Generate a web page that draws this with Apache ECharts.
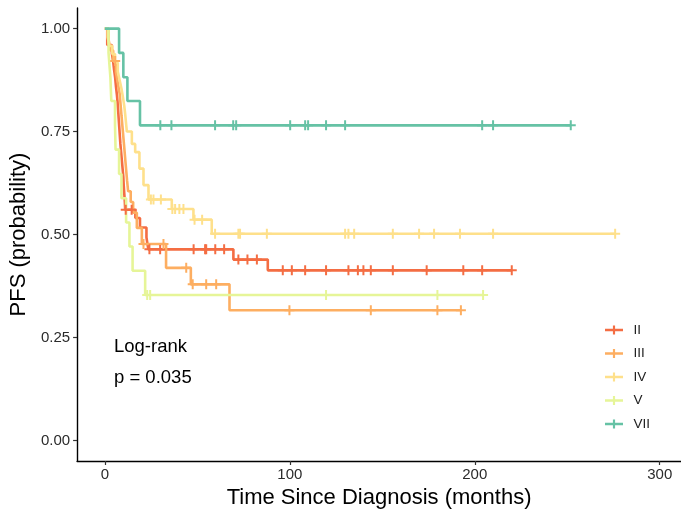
<!DOCTYPE html>
<html>
<head>
<meta charset="utf-8">
<script src="https://cdn.jsdelivr.net/npm/echarts@6/dist/echarts.min.js"></script>
<style>
html, body { margin: 0; padding: 0; background: #ffffff; }
#chart { width: 681px; height: 516px; }
</style>
</head>
<body>
<div id="chart"></div>
<script>
// Kaplan-Meier progression-free survival by group.
// For each group: event times (months), survival just after each event, censoring times.
const groupNames = ['II', 'III', 'IV', 'V', 'VII'];
const groupColors = ['#F46D43', '#FDAE61', '#FEE08B', '#E6F598', '#66C2A5'];

const iiTimes = [1.3, 3.8, 4.5, 5, 5.6, 6, 6.5, 6.9, 7.2, 7.5, 7.8, 8.1, 8.4, 8.8, 9.2, 9.6, 10, 10.2, 10.5, 10.8, 11, 16.5, 19, 22.5, 23.5, 69.5, 88.1];
const iiSurv  = [0.96, 0.94, 0.92, 0.90, 0.88, 0.86, 0.84, 0.82, 0.80, 0.78, 0.76, 0.74, 0.72, 0.70, 0.68, 0.66, 0.64, 0.62, 0.60, 0.58, 0.56, 0.54, 0.517, 0.493, 0.464, 0.439, 0.413];
const iiCensor = [11.3, 14.5, 24.1, 29.9, 48, 54.2, 54.8, 59.7, 64.5, 72.2, 77.1, 82.2, 96.2, 101.1, 108.3, 119.6, 131.7, 136.8, 139.8, 143.8, 155.7, 174, 193.8, 204, 220];

const iiiTimes = [2, 3, 4.5, 6, 7, 8, 8.5, 9, 9.5, 10, 10.5, 11, 11.5, 12, 12.6, 14, 15.3, 17.3, 20, 33.1, 46.5, 67.4];
const iiiSurv  = [0.974, 0.947, 0.921, 0.894, 0.868, 0.842, 0.816, 0.789, 0.763, 0.737, 0.711, 0.684, 0.658, 0.632, 0.605, 0.579, 0.553, 0.516, 0.477, 0.419, 0.379, 0.316];
const iiiCensor = [5.6, 20.9, 31.7, 44, 47.5, 54.8, 60.2, 99.8, 143.8, 179.8, 192.5];

const ivTimes = [1.5, 2.5, 4, 5.5, 7, 8, 9, 9.8, 10.5, 11, 11.9, 14.6, 16.4, 18.7, 20.9, 23.6, 36.2, 47.9, 57.8];
const ivSurv  = [0.979, 0.958, 0.938, 0.917, 0.896, 0.875, 0.854, 0.833, 0.812, 0.792, 0.75, 0.72, 0.70, 0.66, 0.62, 0.585, 0.562, 0.536, 0.502];
const ivCensor = [24.9, 26.3, 30.3, 36.5, 38, 40.3, 42.5, 48.5, 52.6, 59.6, 72.2, 73.1, 87.6, 129.9, 131.7, 134.8, 155.7, 169.9, 178, 192, 209.9, 275.9];

const vTimes = [2, 3, 3.5, 5.5, 5.8, 7.7, 9, 11.5, 13.3, 15, 21.8];
const vSurv  = [0.941, 0.882, 0.824, 0.765, 0.706, 0.647, 0.588, 0.529, 0.471, 0.412, 0.353];
const vCensor = [22.9, 24.5, 119.6, 179.8, 204.5];

const viiTimes = [7.7, 10, 12.2, 19];
const viiSurv  = [0.941, 0.882, 0.824, 0.765];
const viiCensor = [30, 36, 59.6, 69.4, 71, 100.2, 108.3, 109.9, 119.6, 129.9, 204, 209.9, 251.9];

const xTicks = [0, 100, 200, 300];
const yTicks = [0, 0.25, 0.5, 0.75, 1];

const groups = [
  [iiTimes, iiSurv, iiCensor],
  [iiiTimes, iiiSurv, iiiCensor],
  [ivTimes, ivSurv, ivCensor],
  [vTimes, vSurv, vCensor],
  [viiTimes, viiSurv, viiCensor]
];

// survival value of the step function at time t
function survAt(times, surv, t) {
  let s = 1;
  for (let i = 0; i < times.length; i++) {
    if (times[i] <= t) s = surv[i]; else break;
  }
  return s;
}

const plusPath = 'path://M0,4H10V6H0Z M4,0H6V10H4Z';
const legendPath = 'path://M0,3.7H20V6.3H0Z M8.8,0H11.2V10H8.8Z';

const lineSeries = [];
const markSeries = [];
groups.forEach(function (g, k) {
  const times = g[0], surv = g[1], cens = g[2];
  const pts = [[0, 1]];
  for (let i = 0; i < times.length; i++) pts.push([times[i], surv[i]]);
  const lastT = Math.max(times[times.length - 1], cens[cens.length - 1]);
  pts.push([lastT, survAt(times, surv, lastT)]);
  lineSeries.push({
    name: groupNames[k],
    type: 'line',
    step: 'end',
    data: pts,
    showSymbol: false,
    symbol: 'none',
    lineStyle: { color: groupColors[k], width: 2.6 },
    itemStyle: { color: groupColors[k] },
    z: 2,
    silent: true,
    animation: false
  });
  markSeries.push({
    name: groupNames[k],
    type: 'scatter',
    data: cens.map(function (c) { return [c, survAt(times, surv, c)]; }),
    symbol: plusPath,
    symbolSize: [10, 10],
    itemStyle: { color: groupColors[k], opacity: 1 },
    z: 3,
    silent: true,
    animation: false
  });
});

const chart = echarts.init(document.getElementById('chart'), null, { renderer: 'canvas' });
const fontFam = '"Liberation Sans", Arial, Helvetica, sans-serif';

chart.setOption({
  backgroundColor: '#ffffff',
  animation: false,
  textStyle: { fontFamily: fontFam },
  grid: { left: 77, right: 0, top: 8, bottom: 55, containLabel: false },
  xAxis: {
    type: 'value',
    min: -15,
    max: 311.5,
    name: 'Time Since Diagnosis (months)',
    nameLocation: 'middle',
    nameGap: 25,
    nameTextStyle: { fontSize: 22, color: '#000000', fontFamily: fontFam },
    axisLine: { show: true, onZero: false, lineStyle: { color: '#000000', width: 1.4 } },
    axisTick: { show: true, length: 4, customValues: xTicks, lineStyle: { color: '#333333', width: 1.2 } },
    axisLabel: { customValues: xTicks, fontSize: 15, color: '#2b2b2b', margin: 6, fontFamily: fontFam },
    splitLine: { show: false }
  },
  yAxis: {
    type: 'value',
    min: -0.05,
    max: 1.05,
    name: 'PFS (probability)',
    nameLocation: 'middle',
    nameGap: 45,
    nameTextStyle: { fontSize: 22, color: '#000000', fontFamily: fontFam },
    axisLine: { show: true, onZero: false, lineStyle: { color: '#000000', width: 1.4 } },
    axisTick: { show: true, length: 4, customValues: yTicks, lineStyle: { color: '#333333', width: 1.2 } },
    axisLabel: {
      customValues: yTicks, fontSize: 15, color: '#2b2b2b', margin: 7, fontFamily: fontFam,
      formatter: function (v) { return v.toFixed(2); }
    },
    splitLine: { show: false }
  },
  legend: {
    orient: 'vertical',
    left: 605,
    top: 323,
    padding: 0,
    itemWidth: 19,
    itemHeight: 9,
    itemGap: 9.5,
    selectedMode: false,
    textStyle: { fontSize: 13.5, color: '#222222', padding: [0, 0, 0, 5], fontFamily: fontFam },
    data: groupNames.map(function (n, k) {
      return { name: n, icon: legendPath, itemStyle: { color: groupColors[k] } };
    })
  },
  graphic: [
    { type: 'text', left: 114, top: 337, style: { text: 'Log-rank', fontSize: 18.5, fill: '#000000', fontFamily: fontFam } },
    { type: 'text', left: 114, top: 368, style: { text: 'p = 0.035', fontSize: 18.5, fill: '#000000', fontFamily: fontFam } }
  ],
  series: lineSeries.concat(markSeries)
});
</script>
</body>
</html>
